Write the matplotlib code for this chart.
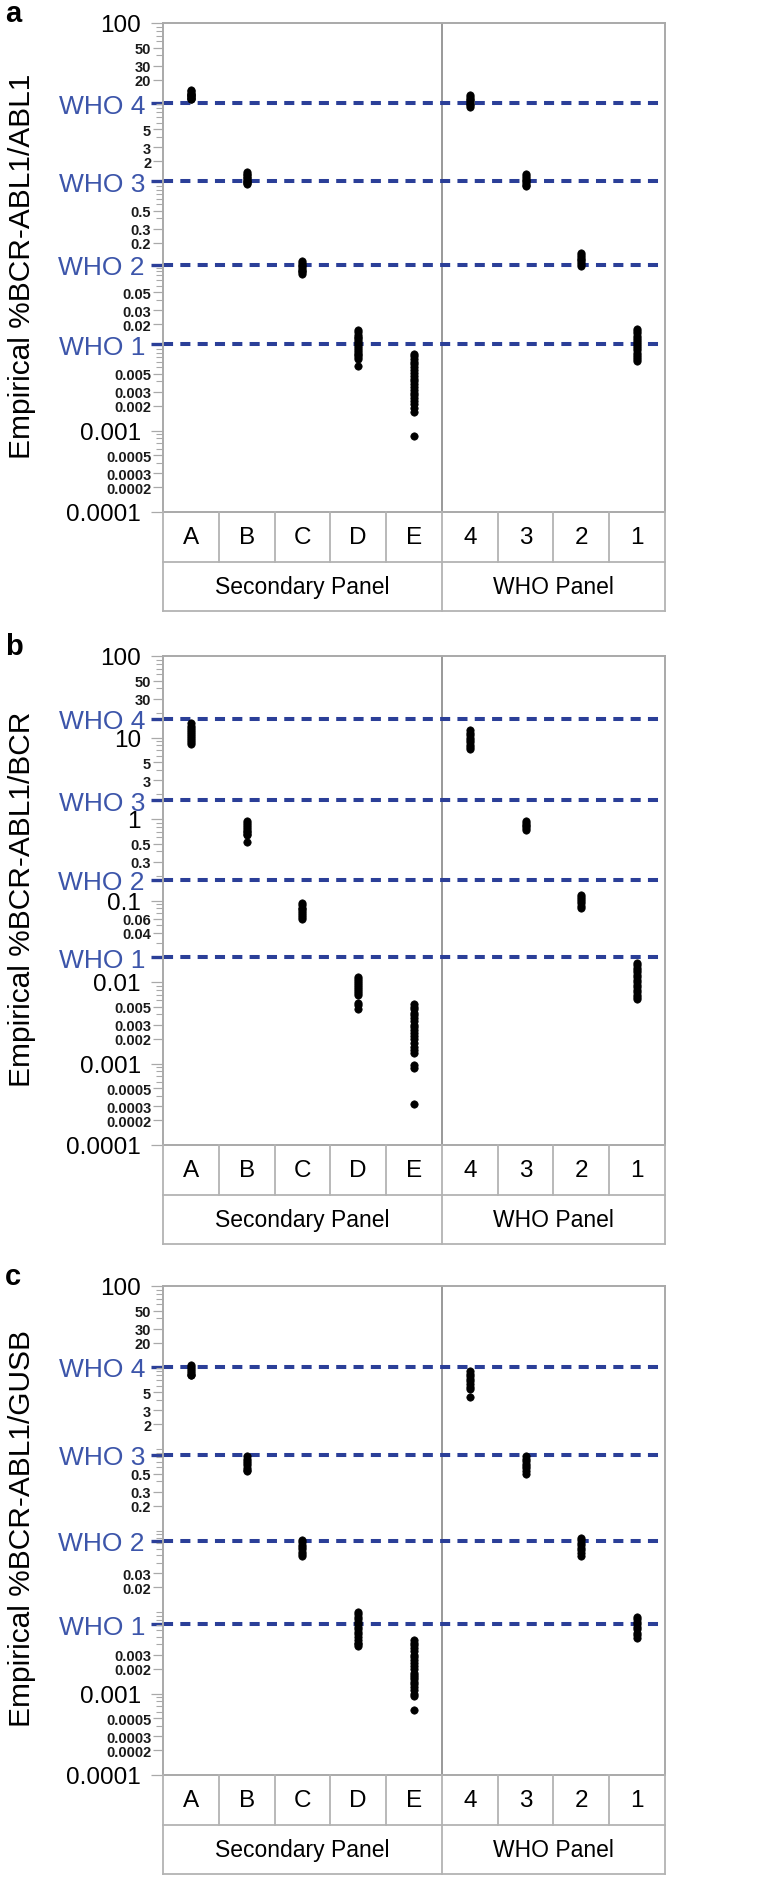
import numpy as np
import matplotlib
matplotlib.use("Agg")
import matplotlib.pyplot as plt
from matplotlib.ticker import FixedLocator, FixedFormatter, LogLocator, NullFormatter

plt.rcParams['font.family'] = ['Liberation Sans', 'DejaVu Sans']

# ---------------- data ----------------
categories = ["A", "B", "C", "D", "E", "4", "3", "2", "1"]
groups = ["Secondary Panel", "WHO Panel"]
panel_letters = ["a", "b", "c"]
ylabels = ["Empirical %BCR-ABL1/ABL1", "Empirical %BCR-ABL1/BCR", "Empirical %BCR-ABL1/GUSB"]

who_names = ["WHO 4", "WHO 3", "WHO 2", "WHO 1"]
who_a = [10.4, 1.15, 0.108, 0.0115]
who_b = [17.0, 1.7, 0.18, 0.020]
who_c = [10.2, 0.85, 0.075, 0.0071]

# panel a (ABL1)
a_A = [15.0, 14.5, 14.0, 13.6, 13.2, 12.9, 12.6, 12.3, 12.0, 11.8, 11.6]
a_B = [1.50, 1.42, 1.36, 1.30, 1.25, 1.20, 1.16, 1.12, 1.08, 1.05]
a_C = [0.120, 0.114, 0.108, 0.103, 0.098, 0.094, 0.090, 0.087, 0.083]
a_D = [0.0170, 0.0160, 0.0150, 0.0142, 0.0135, 0.0128, 0.0121, 0.0115, 0.0109,
       0.0103, 0.0098, 0.0093, 0.0088, 0.0084, 0.0080, 0.0076, 0.0061]
a_E = [0.0088, 0.0082, 0.0076, 0.0070, 0.0065, 0.0060, 0.0055, 0.0051, 0.0047,
       0.0043, 0.0040, 0.0037, 0.0034, 0.0031, 0.0029, 0.0027, 0.0025, 0.0023,
       0.0021, 0.0019, 0.0017, 0.00085]
a_4 = [13.0, 12.4, 11.8, 11.2, 10.7, 10.2, 9.8, 9.3]
a_3 = [1.40, 1.33, 1.26, 1.20, 1.14, 1.09, 1.04, 1.00]
a_2 = [0.150, 0.142, 0.135, 0.128, 0.122, 0.116, 0.110, 0.105]
a_1 = [0.0175, 0.0165, 0.0155, 0.0146, 0.0138, 0.0130, 0.0122, 0.0115, 0.0108,
       0.0102, 0.0096, 0.0090, 0.0085, 0.0080, 0.0076, 0.0072]

# panel b (BCR)
b_A = [15.0, 14.0, 13.2, 12.4, 11.7, 11.0, 10.4, 9.8, 9.3, 8.8, 8.3]
b_B = [0.94, 0.89, 0.84, 0.80, 0.76, 0.72, 0.69, 0.66, 0.63, 0.52]
b_C = [0.092, 0.087, 0.082, 0.078, 0.074, 0.070, 0.066, 0.063, 0.060]
b_D = [0.0115, 0.0108, 0.0102, 0.0096, 0.0091, 0.0086, 0.0081, 0.0077, 0.0073,
       0.0069, 0.0056, 0.0052, 0.0047]
b_E = [0.0054, 0.0050, 0.0046, 0.0042, 0.0039, 0.0036, 0.0033, 0.0030, 0.0028,
       0.0026, 0.0024, 0.0022, 0.0020, 0.0018, 0.0016, 0.00145, 0.00135,
       0.00095, 0.00089, 0.00032]
b_4 = [12.2, 11.4, 10.7, 10.0, 9.4, 8.8, 8.2, 7.7, 7.2]
b_3 = [0.94, 0.89, 0.85, 0.81, 0.77, 0.73]
b_2 = [0.118, 0.111, 0.104, 0.098, 0.092, 0.086, 0.081]
b_1 = [0.0172, 0.0160, 0.0150, 0.0140, 0.0131, 0.0122, 0.0114, 0.0106, 0.0099,
       0.0092, 0.0086, 0.0080, 0.0075, 0.0070, 0.0065, 0.0061]

# panel c (GUSB)
c_A = [10.7, 10.1, 9.6, 9.1, 8.6, 8.2, 8.0]
c_B = [0.81, 0.76, 0.71, 0.67, 0.63, 0.59, 0.56, 0.53]
c_C = [0.077, 0.072, 0.067, 0.063, 0.059, 0.055, 0.052, 0.049]
c_D = [0.0101, 0.0094, 0.0088, 0.0082, 0.0076, 0.0071, 0.0066, 0.0061, 0.0057,
       0.0053, 0.0049, 0.0045, 0.0042, 0.0040, 0.0038]
c_E = [0.0045, 0.0042, 0.0039, 0.0036, 0.0033, 0.0030, 0.0028, 0.0026, 0.0024,
       0.0022, 0.0020, 0.0018, 0.0017, 0.0016, 0.0015, 0.0014, 0.0013, 0.0012,
       0.0011, 0.00100, 0.00092, 0.00063]
c_4 = [9.0, 8.4, 7.8, 7.3, 6.8, 6.3, 5.8, 5.4, 4.4]
c_3 = [0.81, 0.76, 0.71, 0.66, 0.62, 0.58, 0.54, 0.50]
c_2 = [0.082, 0.076, 0.071, 0.066, 0.061, 0.057, 0.053, 0.048]
c_1 = [0.0088, 0.0082, 0.0076, 0.0071, 0.0066, 0.0061, 0.0056, 0.0052, 0.0048]

# tick labels per panel
big_a = ["100", "0.001", "0.0001"]
small_a = ["50", "30", "20", "5", "3", "2", "0.5", "0.3", "0.2", "0.05", "0.03", "0.02",
           "0.005", "0.003", "0.002", "0.0005", "0.0003", "0.0002"]
big_b = ["100", "10", "1", "0.1", "0.01", "0.001", "0.0001"]
small_b = ["50", "30", "5", "3", "0.5", "0.3", "0.06", "0.04", "0.005", "0.003", "0.002",
           "0.0005", "0.0003", "0.0002"]
big_c = ["100", "0.001", "0.0001"]
small_c = ["50", "30", "20", "5", "3", "2", "0.5", "0.3", "0.2", "0.03", "0.02",
           "0.003", "0.002", "0.0005", "0.0003", "0.0002"]

panels = [
    dict(data=[a_A, a_B, a_C, a_D, a_E, a_4, a_3, a_2, a_1], who=who_a, big=big_a, small=small_a),
    dict(data=[b_A, b_B, b_C, b_D, b_E, b_4, b_3, b_2, b_1], who=who_b, big=big_b, small=small_b),
    dict(data=[c_A, c_B, c_C, c_D, c_E, c_4, c_3, c_2, c_1], who=who_c, big=big_c, small=small_c),
]

# ---------------- layout ----------------
W, H = 783, 1881
fig = plt.figure(figsize=(W / 100, H / 100), dpi=100)


def rect(x0, y0, x1, y1):
    return [x0 / W, 1 - y1 / H, (x1 - x0) / W, (y1 - y0) / H]


X0, X1 = 163, 665
tops = [24, 657, 1287]
PLOT_H = 489
TAB_H = 99

frame_col = "#a9a9a9"
div_col = "#7d7d7d"
dash_col = "#2b3f98"
who_txt = "#3c55aa"

for k, p in enumerate(panels):
    top = tops[k]
    ax = fig.add_axes(rect(X0, top, X1, top + PLOT_H))
    ax.set_yscale("log")
    ax.set_ylim(1e-4, 100)
    ax.set_xlim(0, 9)
    ax.set_xticks([])
    for s in ax.spines.values():
        s.set_color(frame_col)
        s.set_linewidth(1.4)
    ax.axvline(5, color=div_col, lw=1.1, zorder=1)

    # WHO reference lines
    for v in p["who"]:
        ax.axhline(v, xmin=0.0, xmax=0.994, color=dash_col, lw=2.9,
                   ls=(0, (2.5, 1.8)), zorder=2)

    # data columns
    for i, vals in enumerate(p["data"]):
        ax.plot([i + 0.5] * len(vals), vals, "o", ms=5.3, color="black",
                mec="black", mew=0.5, zorder=3, clip_on=False)

    # ticks
    entries = []
    for s in p["big"]:
        entries.append((float(s), s, "big"))
    for s in p["small"]:
        entries.append((float(s), s, "small"))
    for v, n in zip(p["who"], who_names):
        entries.append((v, n, "who"))
    entries.sort(key=lambda e: e[0])
    ax.yaxis.set_major_locator(FixedLocator([e[0] for e in entries]))
    ax.yaxis.set_major_formatter(FixedFormatter([e[1] for e in entries]))
    ax.yaxis.set_minor_locator(LogLocator(base=10, subs=np.arange(1, 10), numticks=30))
    ax.yaxis.set_minor_formatter(NullFormatter())
    ax.tick_params(axis="y", which="minor", length=5, width=0.8, color=frame_col)
    ticks = ax.yaxis.get_major_ticks()
    for t, e in zip(ticks, entries):
        if e[2] == "big":
            t._apply_params(size=9, width=0.9, color=frame_col, pad=7,
                            labelsize=17.5, labelcolor="black")
        elif e[2] == "small":
            t._apply_params(size=7.5, width=0.9, color=frame_col, pad=1.0,
                            labelsize=10.5, labelcolor="#1a1a1a")
            t.label1.set_fontweight("bold")
        else:
            t._apply_params(size=9, width=2.4, color=dash_col, pad=4,
                            labelsize=19, labelcolor=who_txt)

    # y label and panel letter
    fig.text(22 / W, 1 - (top + 242) / H, ylabels[k], rotation=90,
             ha="center", va="center", fontsize=21.5)
    fig.text(5 / W, 1 - (top - 2) / H, panel_letters[k], ha="left",
             va="baseline", fontsize=21, fontweight="bold")

    # category table
    tax = fig.add_axes(rect(X0, top + PLOT_H, X1, top + PLOT_H + TAB_H))
    tax.set_xlim(0, 9)
    tax.set_ylim(0, 2)
    tax.axis("off")
    lc = "#b3b3b3"
    for yv in [0, 1]:
        tax.axhline(yv, color=lc, lw=1.3, clip_on=False)
    tax.axvline(0, color=lc, lw=1.3, clip_on=False)
    tax.axvline(9, color=lc, lw=1.3, clip_on=False)
    for xv in range(1, 9):
        tax.axvline(xv, ymin=0.5, ymax=1.0, color=lc, lw=1.3, clip_on=False)
    tax.axvline(5, ymin=0.0, ymax=0.5, color=lc, lw=1.3, clip_on=False)
    for i, c in enumerate(categories):
        tax.text(i + 0.5, 1.5, c, ha="center", va="center", fontsize=17.5)
    tax.text(2.5, 0.5, groups[0], ha="center", va="center", fontsize=16.5)
    tax.text(7.0, 0.5, groups[1], ha="center", va="center", fontsize=16.5)

fig.savefig("out.png", dpi=100)
